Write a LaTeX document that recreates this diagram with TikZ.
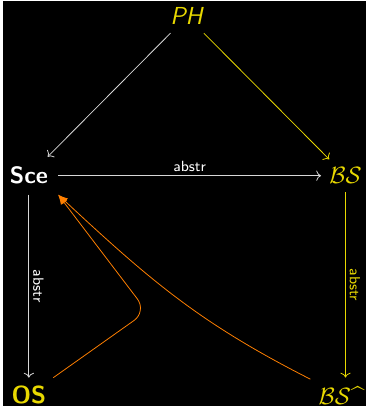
\documentclass[tikz,border=0pt]{standalone}
\usepackage{amsmath,amssymb}
\usepackage{xcolor}
\usepackage{tikz}
\usetikzlibrary{arrows.meta,positioning,calc}
\renewcommand{\familydefault}{\sfdefault}

\definecolor{hlyellow}{RGB}{232,216,0}
\definecolor{hlorange}{RGB}{255,128,0}
\definecolor{hlgray}{RGB}{215,215,215}

\begin{document}
\begin{tikzpicture}[
    x=0.5pt, y=-0.5pt,
    >=To,
    lbl/.style={font=\fontsize{12.5}{15}\selectfont, inner sep=4pt},
    rel/.style={->, hlgray},
    relY/.style={->, hlyellow},
    back/.style={-{Latex[length=5pt,width=4pt]}, hlorange},
    tag/.style={font=\fontsize{7.5}{9}\selectfont, inner sep=2pt}
  ]
  \fill[black] (0,0) rectangle (369,412);

  % --- the five objects ---
  \node[lbl, hlyellow] (ph)  at (187,16)  {\textit{PH}};
  \node[lbl, white, font=\fontsize{12}{15}\selectfont\bfseries, inner sep=5pt] (sce) at (26,178) {Sce};
  \node[lbl, hlyellow] (bs)  at (348,178) {$\mathcal{BS}$};
  \node[lbl, hlyellow, font=\fontsize{12.5}{15}\selectfont\bfseries] (os) at (26,401) {OS};
  \node[lbl, hlyellow] (bsh) at (344,401) {$\mathcal{BS}$\^{}};

  % --- from PH ---
  \draw[rel]  (ph) -- (sce);
  \draw[relY] (ph) -- (bs);

  % --- abstraction arrows ---
  \draw[rel] (sce) -- node[tag, above, white]{abstr} (bs);
  \draw[rel] (sce) -- node[tag, above, sloped, white]{abstr} (os);
  \draw[relY] (bs) -- node[tag, above, sloped, hlyellow]{abstr} (bs |- bsh.north);

  % --- back to Sce ---
  \coordinate (knee) at (146,316);
  \draw[back, rounded corners=8pt] (os) -- (knee) -- (sce.south east);
  \draw[back] (bsh) .. controls (200,328) and (150,285) .. (sce.south east);

\end{tikzpicture}
\end{document}
